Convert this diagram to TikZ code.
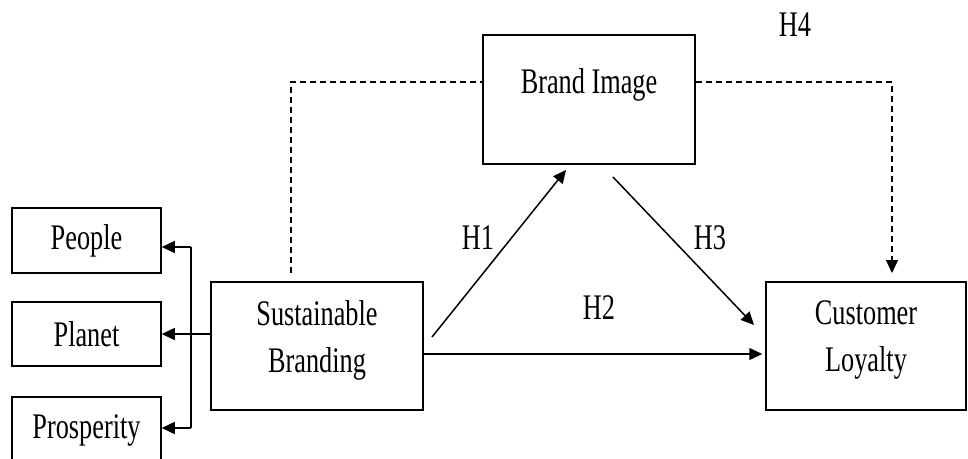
\documentclass[tikz,border=0pt]{standalone}
\usepackage{fontspec}
\setmainfont{Liberation Serif}
\usetikzlibrary{arrows.meta}
% condensed serif lettering
\newcommand{\narrow}[1]{\scalebox{0.73}[1]{#1}}
\begin{document}
\begin{tikzpicture}[x=1pt,y=-1pt,
  box/.style={draw, line width=1.5pt, inner sep=0pt, align=center,
    font=\fontsize{36}{47}\selectfont},
  lbl/.style={inner sep=0pt, align=center, font=\fontsize{36}{47}\selectfont},
  link/.style={line width=1.5pt},
  tip/.style={-{Triangle[length=13pt,width=12pt]}},
  dashlink/.style={line width=1.4pt, dash pattern=on 6pt off 4pt}]
\fill[white] (0,0) rectangle (968,458);
\clip (0,0) rectangle (968,458);

% boxes
\node[box, minimum width=149pt, minimum height=65pt] (people) at (86.5,240.5) {\narrow{People}};
\node[box, minimum width=149pt, minimum height=64pt] (planet) at (86.5,334) {\narrow{Planet}};
\node[box, minimum width=149pt, minimum height=66pt] (prosperity) at (86.5,430) {\narrow{Prosperity}};
\node[box, minimum width=212pt, minimum height=128pt,
  label={[lbl, yshift=6pt]center:\narrow{Sustainable}\\\narrow{Branding}}] (sb) at (317,346) {};
\node[box, minimum width=212pt, minimum height=129pt,
  label={[lbl, yshift=14.5pt]center:\narrow{Brand Image}}] (bi) at (589,99.5) {};
\node[box, minimum width=200pt, minimum height=128pt,
  label={[lbl, yshift=6pt]center:\narrow{Customer}\\\narrow{Loyalty}}] (cl) at (866,346) {};

% dimension tree on the left
\coordinate (trunk) at (191,0);
\coordinate (pa) at ([yshift=-6.5pt]people.east);
\coordinate (pr) at ([yshift=2pt]prosperity.east);
\draw[link, tip] (sb.west |- planet.east) -- (planet.east);
\draw[link] (pa -| trunk) -- (pr -| trunk);
\draw[link, tip] (pa -| trunk) -- (pa);
\draw[link, tip] (pr -| trunk) -- (pr);

% hypothesised paths
\coordinate (h1a) at (432,337);
\coordinate (h1b) at (566,170);
\coordinate (h3a) at (613,177);
\coordinate (h3b) at (754,325);
\draw[link, tip] (h1a) -- (h1b);
\draw[link, tip] (h3a) -- (h3b);
\draw[link, tip, shorten >=3pt] ([yshift=-8pt]sb.east) -- ([yshift=-8pt]cl.west);

% mediated path (dashed)
\coordinate (dl) at (291,273);
\coordinate (dr) at (892,273);
\draw[dashlink] (dl) |- ([yshift=17.5pt]bi.west);
\draw[dashlink, tip] ([yshift=17.5pt]bi.east) -| (dr);

% labels
\node[lbl] (l1) at (478,238) {\narrow{H1}};
\node[lbl] (l2) at (599,308) {\narrow{H2}};
\node[lbl] (l3) at (710,238) {\narrow{H3}};
\node[lbl] (l4) at (795,25) {\narrow{H4}};
\end{tikzpicture}
\end{document}
